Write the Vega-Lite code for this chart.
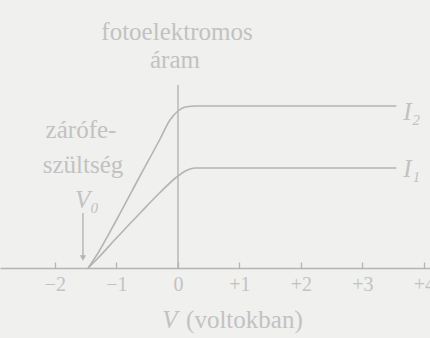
{
  "$schema": "https://vega.github.io/schema/vega-lite/v6.json",
  "width": 430,
  "height": 338,
  "autosize": "none",
  "padding": 0,
  "background": "#f0f0ee",
  "config": {"view": {"stroke": null}, "font": "Liberation Serif"},
  "datasets": {
    "curves": [
      {"series": "I2", "v": -1.46, "i": 0},
      {"series": "I2", "v": -1.3, "i": 15},
      {"series": "I2", "v": -1.0, "i": 48},
      {"series": "I2", "v": -0.6, "i": 94},
      {"series": "I2", "v": -0.3, "i": 128},
      {"series": "I2", "v": -0.13, "i": 148},
      {"series": "I2", "v": 0.0, "i": 157},
      {"series": "I2", "v": 0.12, "i": 161},
      {"series": "I2", "v": 0.3, "i": 162},
      {"series": "I2", "v": 3.55, "i": 162},
      {"series": "I1", "v": -1.46, "i": 0},
      {"series": "I1", "v": -1.3, "i": 10},
      {"series": "I1", "v": -1.0, "i": 30},
      {"series": "I1", "v": -0.6, "i": 56},
      {"series": "I1", "v": -0.3, "i": 75},
      {"series": "I1", "v": 0.0, "i": 92},
      {"series": "I1", "v": 0.12, "i": 97},
      {"series": "I1", "v": 0.28, "i": 100},
      {"series": "I1", "v": 3.55, "i": 100}
    ],
    "rules": [
      {"name": "yaxis", "v": 0, "i": 0, "i2": 183},
      {"name": "arrow", "v": -1.545, "i": 55, "i2": 12}
    ],
    "heads": [
      {"v": -1.545, "i": 10}
    ],
    "plain": [
      {"text": "fotoelektromos", "v": -0.016, "i": 236},
      {"text": "áram", "v": -0.049, "i": 208},
      {"text": "zárófe-", "v": -1.577, "i": 138},
      {"text": "szültség", "v": -1.545, "i": 103},
      {"text": "(voltokban)", "v": 1.08, "i": -52}
    ],
    "italic": [
      {"text": "V₀", "v": -1.48, "i": 68},
      {"text": "I₂", "v": 3.8, "i": 156},
      {"text": "I₁", "v": 3.8, "i": 99},
      {"text": "V", "v": -0.13, "i": -52}
    ]
  },
  "encoding": {
    "x": {
      "field": "v",
      "type": "quantitative",
      "scale": {"domain": [-2.894, 4.098], "nice": false, "zero": false},
      "axis": {
        "orient": "bottom",
        "offset": -70,
        "values": [-2, -1, 0, 1, 2, 3, 4],
        "labelExpr": "datum.value > 0 ? '+' + datum.label : datum.label",
        "title": null,
        "grid": false,
        "domainColor": "#b4b4b4",
        "domainWidth": 1.5,
        "tickColor": "#b4b4b4",
        "tickWidth": 1.3,
        "tickSize": -6,
        "labelPadding": 12,
        "labelFont": "Liberation Serif",
        "labelFontSize": 20,
        "labelColor": "#c2c2c2",
        "labelOverlap": false,
        "labelBound": false,
        "labelFlush": false
      }
    },
    "y": {
      "field": "i",
      "type": "quantitative",
      "scale": {"domain": [-70, 268], "nice": false, "zero": false},
      "axis": null
    }
  },
  "layer": [
    {
      "data": {"name": "curves"},
      "mark": {"type": "line", "interpolate": "monotone", "color": "#b4b4b4", "strokeWidth": 1.6},
      "encoding": {"detail": {"field": "series"}}
    },
    {
      "data": {"name": "rules"},
      "mark": {"type": "rule", "color": "#b4b4b4", "strokeWidth": 1.4},
      "encoding": {"y2": {"field": "i2"}}
    },
    {
      "data": {"name": "heads"},
      "mark": {"type": "point", "shape": "triangle-down", "filled": true, "color": "#b4b4b4", "size": 40, "opacity": 1}
    },
    {
      "data": {"name": "plain"},
      "mark": {"type": "text", "font": "Liberation Serif", "fontSize": 25, "color": "#c2c2c2", "align": "center", "baseline": "middle"},
      "encoding": {"text": {"field": "text"}}
    },
    {
      "data": {"name": "italic"},
      "mark": {"type": "text", "font": "Liberation Serif", "fontStyle": "italic", "fontSize": 25, "color": "#c2c2c2", "align": "center", "baseline": "middle"},
      "encoding": {"text": {"field": "text"}}
    }
  ]
}
